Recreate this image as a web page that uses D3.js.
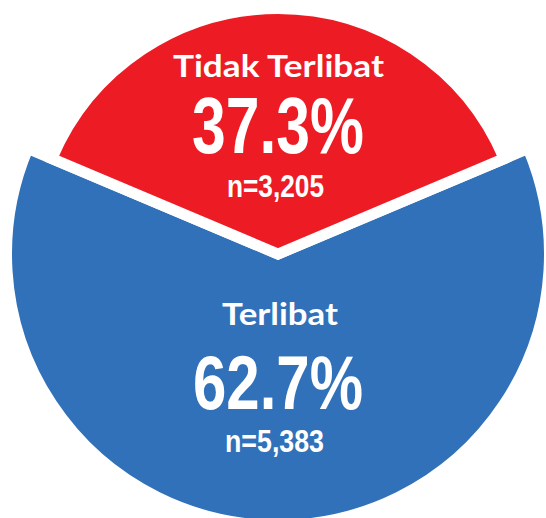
<!DOCTYPE html>
<html><head><meta charset="utf-8">
<script src="https://cdn.jsdelivr.net/npm/d3@7"></script>
<style>html,body{margin:0;padding:0;background:#fff;overflow:hidden}</style>
</head><body>
<svg id="chart" width="546" height="518"></svg>
<script>
// ---- data ----
const categories = ["Tidak Terlibat", "Terlibat"];
const percentages = [37.3, 62.7];
const counts = [3205, 5383];
const colors = ["#ED1C24", "#3171B9"];

const data = categories.map((c, i) => ({ name: c, pct: percentages[i], n: counts[i], color: colors[i], i }));

const svg = d3.select("#chart");
const cx = 278, cy = 254;
const gap = 11;               // white separator width
const visibleR = [240, 266];  // visible outer radius per slice (red smaller)

// red slice centred at the top: rotate pie so first slice straddles 12 o'clock
const total = d3.sum(percentages);
const redSpan = percentages[0] / total * 2 * Math.PI;
const start = -redSpan / 2;
const pie = d3.pie().sort(null).value(d => d.pct).startAngle(start).endAngle(start + 2 * Math.PI);
const arcs = pie(data);

const arc = d3.arc()
  .innerRadius(0)
  .outerRadius(d => visibleR[d.data.i] + gap / 2);

const g = svg.append("g").attr("transform", `translate(${cx},${cy})`);

// draw blue first, red on top
g.selectAll("path.slice")
  .data(arcs.slice().reverse())
  .join("path")
  .attr("class", "slice")
  .attr("d", arc)
  .attr("fill", d => d.data.color)
  .attr("stroke", "#fff")
  .attr("stroke-width", gap)
  .attr("stroke-linejoin", "miter")
  .attr("stroke-miterlimit", 10);

// ---- labels ----
const fmt = d3.format(",");
const labelFont = "Lato, 'Open Sans', sans-serif";
const numFont = "'Liberation Sans Narrow', 'Arial Narrow', 'Liberation Sans', Arial, sans-serif";

const labelSpecs = [
  { // Tidak Terlibat
    name: { y: -177, size: 31, len: 211, dx: 0.5 },
    pct:  { y: -101, size: 80, len: 172, dx: 0 },
    n:    { y: -57,  size: 31, len: 97,  dx: -2.5 }
  },
  { // Terlibat
    name: { y: 71,  size: 31, len: 116, dx: 2 },
    pct:  { y: 155, size: 76, len: 170, dx: 0 },
    n:    { y: 198, size: 31, len: 99,  dx: -3.5 }
  }
];

data.forEach((d, i) => {
  const s = labelSpecs[i];
  const lg = g.append("g").attr("class", "label").attr("fill", "#fff").attr("text-anchor", "middle");
  lg.append("text")
    .attr("x", s.name.dx).attr("y", s.name.y)
    .attr("font-family", labelFont).attr("font-weight", 700)
    .attr("font-size", s.name.size)
    .attr("textLength", s.name.len).attr("lengthAdjust", "spacingAndGlyphs")
    .text(d.name);
  lg.append("text")
    .attr("x", s.pct.dx).attr("y", s.pct.y)
    .attr("font-family", numFont).attr("font-weight", 700)
    .attr("font-size", s.pct.size)
    .attr("textLength", s.pct.len).attr("lengthAdjust", "spacingAndGlyphs")
    .text(d.pct.toFixed(1) + "%");
  lg.append("text")
    .attr("x", s.n.dx).attr("y", s.n.y)
    .attr("font-family", numFont).attr("font-weight", 700)
    .attr("font-size", s.n.size)
    .attr("textLength", s.n.len).attr("lengthAdjust", "spacingAndGlyphs")
    .text("n=" + fmt(d.n));
});
</script>
</body></html>
